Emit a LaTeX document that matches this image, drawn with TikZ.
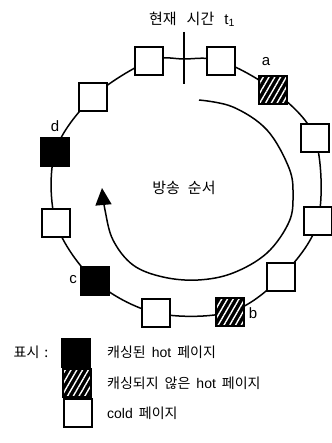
\documentclass[tikz,border=0pt]{standalone}
\usepackage{fontspec}
\setmainfont{Liberation Sans}
\newfontfamily\kr{Noto Sans CJK KR}
\usetikzlibrary{patterns.meta,arrows.meta,backgrounds}
\begin{document}
\begin{tikzpicture}[x=1pt,y=-1pt,
  pagebox/.style={draw=black,line width=1.3pt,minimum size=28pt,inner sep=0pt},
  cold/.style={pagebox,fill=white},
  cached/.style={pagebox,fill=black},
  hotpage/.style={pagebox,preaction={fill=black},pattern={Lines[angle=60,distance=5pt,line width=1.4pt]},pattern color=white},
  ring/.style={line width=1.5pt},
  flow/.style={line width=1.5pt,-{Triangle[length=17pt,width=16pt]}},
  lbl/.style={font=\fontsize{15}{17}\selectfont,inner sep=0pt},
  krtext/.style={font=\kr\fontsize{14}{16}\selectfont,inner sep=0pt},
  krbig/.style={font=\kr\fontsize{15}{17}\selectfont,inner sep=0pt},
]
\useasboundingbox (0,0) rectangle (331,443);
% ring pages (clockwise from top)
\node[cold] (s2) at (221,61) {};
\node[hotpage] (a) at (273,90) {};
\node[cold] (s3) at (315,138) {};
\node[cold] (s4) at (318,221) {};
\node[cold] (s5) at (281,277) {};
\node[hotpage] (b) at (230,312) {};
\node[cold] (s6) at (156,313) {};
\node[cached] (c) at (95,281) {};
\node[cold] (s7) at (56,223) {};
\node[cached] (d) at (55,152) {};
\node[cold] (s8) at (93,97) {};
\node[cold] (s1) at (149,61) {};
\coordinate (tm) at (184,59);
\coordinate (tt) at (184,32);
\coordinate (tb) at (184,84);
\begin{scope}[on background layer]
\draw[ring] plot[smooth cycle, tension=0.55] coordinates {(tm) (s2.center) (a.center) (s3.center) (s4.center) (s5.center) (b.center) (s6.center) (c.center) (s7.center) (d.center) (s8.center) (s1.center)};
\end{scope}
\draw[line width=2.4pt] (tt) -- (tb);
% labels
\node[lbl] (la) at (266,62) {a};
\node[lbl] (lb) at (253,313) {b};
\node[lbl] (lc) at (73,280) {c};
\node[lbl] (ld) at (55,126) {d};
\node[krbig] (title) at (192,19) {현재\hspace{10pt}시간\hspace{10pt}{\fontsize{15}{17}\selectfont\rmfamily t\textsubscript{1}}};
% broadcast order arrow
\coordinate (fs) at (199,100);
\coordinate (fe) at (102,188);
\draw[flow] plot[smooth, tension=0.6] coordinates {(fs) (233,107) (267,130) (289,168) (293,195) (289,222) (267,253) (233,273) (198,280) (163,277) (133,265) (113,240) (105,210) (fe)};
\node[krbig] (order) at (184,188) {방송\hspace{8pt}순서};
% legend
\node[krtext] (legend) at (31,352) {표시\hspace{5pt}:};
\node[cached] (k1) at (76,353) {};
\node[hotpage] (k2) at (77,383) {};
\node[cold] (k3) at (78,413) {};
\node[krtext,anchor=west] (t1) at (107,352) {캐싱된\hspace{6pt}{\rmfamily hot}\hspace{6pt}페이지};
\node[krtext,anchor=west] (t2) at (107,383) {캐싱되지\hspace{6pt}않은\hspace{6pt}{\rmfamily hot}\hspace{6pt}페이지};
\node[krtext,anchor=west] (t3) at (107,413) {{\rmfamily cold}\hspace{6pt}페이지};
\end{tikzpicture}
\end{document}
